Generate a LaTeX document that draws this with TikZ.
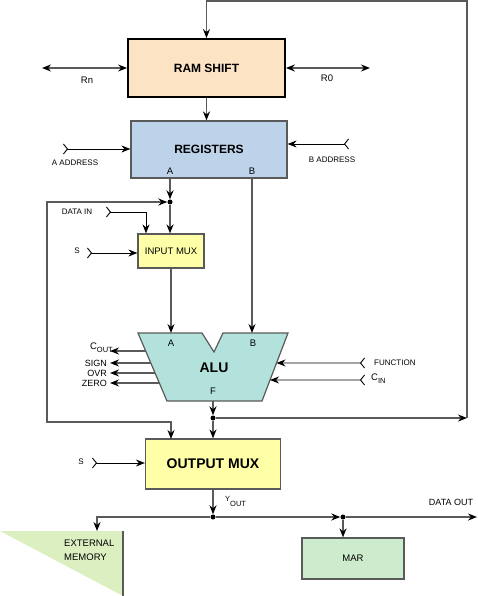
\documentclass[tikz,border=0pt]{standalone}
\usepackage{fontspec}
\setmainfont{Liberation Sans}
\usetikzlibrary{arrows.meta,calc}
\definecolor{ramfill}{HTML}{FCE3C4}
\definecolor{regfill}{HTML}{BDD3E9}
\definecolor{muxfill}{HTML}{FFFFA8}
\definecolor{alufill}{HTML}{B3E2DC}
\definecolor{marfill}{HTML}{CDEBCD}
\definecolor{memfill}{HTML}{DCEFC1}
\definecolor{wire}{HTML}{5A5A5A}
\newcommand{\lowsub}[2][3pt]{\raisebox{-#1}{\fontsize{7.5}{8}\selectfont #2}}
\begin{document}
\begin{tikzpicture}[x=1pt, y=-1pt,
  box/.style={shape=rectangle, draw=wire, line width=1.2pt, inner sep=0pt},
  dot/.style={shape=circle, fill=black, inner sep=0pt, minimum size=5pt},
  bus/.style={color=wire, line width=1.5pt},
  sig/.style={color=black, line width=0.9pt},
  tip/.style={-{Stealth[length=9pt,width=7pt,inset=3pt,color=black]}},
  both/.style={{Stealth[length=9pt,width=7pt,inset=3pt,color=black]}-{Stealth[length=9pt,width=7pt,inset=3pt,color=black]}},
  inp/.style={{Straight Barb[reversed,length=4pt,width=10pt]}-{Stealth[length=9pt,width=7pt,inset=3pt]}},
  lbl/.style={font=\fontsize{8}{10}\selectfont, inner sep=0pt},
  txt/.style={font=\fontsize{9.5}{11}\selectfont, inner sep=0pt},
  ttl/.style={font=\fontsize{12}{14}\selectfont\bfseries}]
\useasboundingbox (0,0) rectangle (478,596);
% blocks
\node[box, draw=black, line width=1.8pt, fill=ramfill, minimum width=157pt, minimum height=58pt, ttl] (ram) at (206.5,68) {RAM SHIFT};
\node[box, fill=regfill, minimum width=156pt, minimum height=57pt, ttl] (reg) at (209,149.5) {REGISTERS};
\node[txt] (regA) at (170,171) {A};
\node[txt] (regB) at (252,171) {B};
\node[box, fill=muxfill, minimum width=66pt, minimum height=34pt, font=\fontsize{9.5}{11}\selectfont] (imux) at (171,251) {INPUT MUX};
\node[box, fill=muxfill, minimum width=135pt, minimum height=50pt, font=\fontsize{14}{16}\selectfont\bfseries] (omux) at (213,464) {OUTPUT MUX};
\node[box, fill=marfill, minimum width=102pt, minimum height=41pt, txt] (mar) at (353,558.5) {MAR};
% alu
\coordinate (aluTL) at (138,333);
\coordinate (aluTR) at (288,333);
\coordinate (aluBR) at (262,401);
\coordinate (aluBL) at (167,401);
\draw[fill=alufill, draw=wire, line width=1.2pt] (aluTL) -- (202,333) -- (214,352) -- (223,333) -- (aluTR) -- (aluBR) -- (aluBL) -- cycle;
\node[font=\fontsize{14}{16}\selectfont\bfseries] (alu) at (214,368) {ALU};
\node[txt] (aluA) at (171,343) {A};
\node[txt] (aluB) at (253,343) {B};
\node[txt] (aluF) at (213,391) {F};
% external memory
\fill[memfill] (0,531) -- (123,531) -- (123,596) -- cycle;
\draw[wire, line width=1.2pt] (123,531) -- (123,596);
\coordinate (mem) at (97,531);
\node[txt, anchor=west, align=left, font=\fontsize{9.5}{14}\selectfont] (memtxt) at (64,550) {EXTERNAL\\MEMORY};
% junctions
\node[dot] (jA) at (170,202) {};
\node[dot] (jF) at (213,418) {};
\node[dot] (jY) at (213,517) {};
\node[dot] (jM) at (343,517) {};
\coordinate (lpT) at (47,202);
\coordinate (lpB) at (47,422);
\coordinate (omA) at (171,439);
\coordinate (rtB) at (467,418);
\coordinate (rtT) at (467,1);
\coordinate (rn) at (42,68);
\coordinate (r0) at (370,68);
\coordinate (dout) at (477,517);
% input markers
\coordinate (aAdr) at (63,149);
\coordinate (bAdr) at (349,144);
\coordinate (dIn) at (106,212);
\coordinate (sIn) at (87,253);
\coordinate (sOut) at (92,463);
\coordinate (fn) at (365,363);
\coordinate (cin) at (365,380);
% alu edge points
\coordinate (cout) at ($(aluTL)!0.265!(aluBL)$);
\coordinate (sign) at ($(aluTL)!0.441!(aluBL)$);
\coordinate (ovr) at ($(aluTL)!0.588!(aluBL)$);
\coordinate (zero) at ($(aluTL)!0.735!(aluBL)$);
\coordinate (fnE) at ($(aluTR)!0.441!(aluBR)$);
\coordinate (cinE) at ($(aluTR)!0.691!(aluBR)$);
% labels
\node[lbl, font=\fontsize{9.5}{11}\selectfont] (rnL) at (87,80) {Rn};
\node[lbl, font=\fontsize{9.5}{11}\selectfont] (r0L) at (327,78) {R0};
\node[lbl] (aAdrL) at (75,163) {A ADDRESS};
\node[lbl] (bAdrL) at (332,160) {B ADDRESS};
\node[lbl] (dInL) at (77,212) {DATA IN};
\node[lbl] (sInL) at (77,251) {S};
\node[lbl] (sOutL) at (81,462) {S};
\node[lbl, anchor=west] (fnL) at (374,363) {FUNCTION};
\node[lbl, anchor=west, font=\fontsize{9.5}{11}\selectfont] (cinL) at (371,379) {C\lowsub{IN}};
\node[lbl, anchor=east, font=\fontsize{9.5}{11}\selectfont] (coutL) at (113,348) {C\lowsub{OUT}};
\node[lbl, anchor=east, font=\fontsize{9}{11}\selectfont] (signL) at (107,363) {SIGN};
\node[lbl, anchor=east, font=\fontsize{9}{11}\selectfont] (ovrL) at (107,373) {OVR};
\node[lbl, anchor=east, font=\fontsize{9}{11}\selectfont] (zeroL) at (107,383) {ZERO};
\node[lbl, anchor=west, font=\fontsize{7.5}{9}\selectfont] (yL) at (225,501) {Y\lowsub[5pt]{OUT}};
\node[lbl, font=\fontsize{9}{11}\selectfont] (doutL) at (451,502) {DATA OUT};
% connectors
\draw[bus, both] (rn) -- (rn -| ram.west);
\draw[bus, both] (ram.east |- r0) -- (r0);
\path[bus, tip] (ram.south) edge (ram.south |- reg.north);
\path[sig, inp] (aAdr) edge (aAdr -| reg.west);
\path[sig, inp] (bAdr) edge (bAdr -| reg.east);
\path[bus, tip] (jA |- reg.south) edge (jA);
\path[bus, tip] (jA) edge (jA |- imux.north);
\draw[sig, inp] (dIn) -| ([xshift=-25pt]imux.north);
\path[sig, inp] (sIn) edge (sIn -| imux.west);
\path[bus, tip] (imux.south) edge (imux.south |- aluTL);
\path[bus, tip] (regB |- reg.south) edge (regB |- aluTR);
\path[bus, tip] (cout) edge (cout -| 110,0);
\path[bus, tip] (sign) edge (sign -| 110,0);
\path[bus, tip] (ovr) edge (ovr -| 110,0);
\path[bus, tip] (zero) edge (zero -| 110,0);
\path[sig, inp] (fn) edge (fnE);
\path[sig, inp] (cin) edge (cinE);
\path[bus, tip] (jF |- aluBL) edge (jF);
\path[bus, tip] (jF) edge (jF |- omux.north);
\path[bus, tip] (jF) edge (rtB);
\draw[bus, tip] (rtB) -- (rtT) -| (ram.north);
\draw[bus, both] (jA) -- (lpT) -- (lpB) -| (omA);
\path[sig, inp] (sOut) edge (sOut -| omux.west);
\path[bus, tip] (omux.south) edge (jY);
\draw[bus, tip] (jY) -| (mem);
\path[bus, tip] (jY) edge (jM);
\path[bus, tip] (jM) edge (dout);
\path[bus, tip] (jM) edge (jM |- mar.north);
\end{tikzpicture}
\end{document}
